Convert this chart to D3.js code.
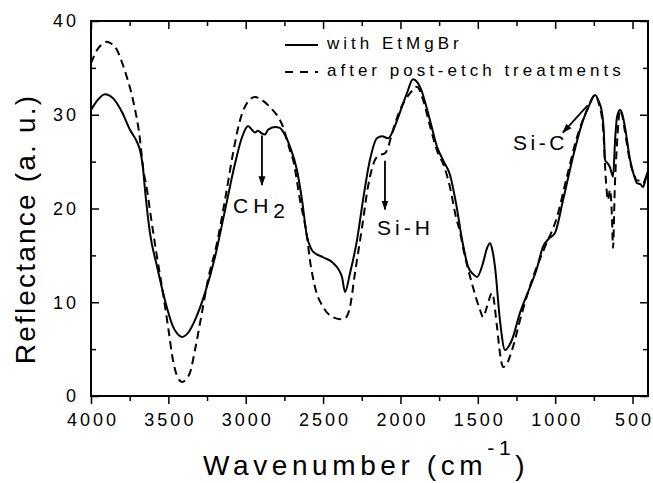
<!DOCTYPE html>
<html>
<head>
<meta charset="utf-8">
<script src="https://cdn.jsdelivr.net/npm/d3@7"></script>
<style>
  body { margin: 0; background: #fff; }
  svg { font-family: "Liberation Sans", Arial, sans-serif; }
</style>
</head>
<body>
<div class="chart"></div>
<script>
// solid curve: with EtMgBr
const waveSolid = [4000, 3960, 3910, 3860, 3800, 3748, 3700, 3683, 3665, 3651, 3619, 3573, 3522, 3470, 3440, 3412, 3370, 3328, 3263, 3199, 3134, 3069, 3024, 2985, 2960, 2940, 2921, 2895, 2875, 2856, 2811, 2780, 2759, 2714, 2669, 2636, 2604, 2580, 2565, 2500, 2436, 2378, 2358, 2326, 2281, 2242, 2197, 2152, 2119, 2080, 2050, 2022, 1958, 1919, 1874, 1809, 1764, 1720, 1680, 1640, 1600, 1563, 1530, 1505, 1466, 1440, 1421, 1405, 1389, 1357, 1324, 1300, 1279, 1227, 1163, 1120, 1079, 1040, 1001, 949, 885, 820, 775, 742, 720, 697, 685, 678, 660, 646, 626, 612, 600, 581, 565, 549, 516, 490, 471, 450, 432, 410, 400];
const reflSolid = [30.5, 31.5, 32.2, 31.8, 30.3, 28.4, 27.0, 26.2, 24.5, 22.0, 17.4, 13.8, 10.2, 7.4, 6.6, 6.3, 6.8, 8.1, 11.0, 14.8, 19.8, 24.8, 27.6, 28.8, 28.4, 28.1, 28.3, 28.0, 27.9, 28.4, 28.7, 28.6, 28.2, 26.6, 24.1, 20.9, 17.0, 15.8, 15.4, 14.8, 14.2, 12.7, 11.1, 13.1, 16.6, 20.9, 25.2, 27.5, 27.7, 27.5, 28.2, 29.4, 32.3, 33.8, 33.0, 29.4, 26.6, 25.0, 23.6, 20.5, 16.5, 13.8, 13.0, 12.7, 14.2, 15.8, 16.3, 15.5, 13.8, 8.1, 4.9, 5.3, 6.0, 8.9, 11.6, 13.5, 15.9, 16.8, 17.4, 20.9, 25.5, 29.4, 31.2, 32.1, 31.5, 30.2, 28.0, 25.2, 24.8, 24.4, 23.4, 27.5, 29.8, 30.5, 30.0, 28.7, 25.2, 23.5, 22.7, 22.6, 22.3, 23.5, 24.0];

// dashed curve: after post-etch treatments
const waveDashed = [4000, 3961, 3930, 3897, 3870, 3832, 3800, 3768, 3729, 3683, 3664, 3638, 3619, 3573, 3535, 3502, 3470, 3440, 3412, 3380, 3360, 3328, 3283, 3244, 3186, 3134, 3082, 3037, 2990, 2940, 2890, 2843, 2759, 2714, 2694, 2649, 2604, 2585, 2552, 2500, 2436, 2390, 2358, 2326, 2294, 2248, 2210, 2164, 2132, 2100, 2080, 2055, 2003, 1938, 1893, 1854, 1809, 1764, 1720, 1680, 1640, 1615, 1596, 1531, 1486, 1466, 1441, 1408, 1376, 1357, 1337, 1310, 1279, 1214, 1143, 1066, 988, 924, 859, 794, 742, 720, 691, 672, 659, 645, 633, 626, 615, 600, 581, 565, 549, 516, 490, 471, 450, 432, 410, 400];
const reflDashed = [35.5, 36.9, 37.5, 37.8, 37.6, 36.9, 35.6, 34.0, 31.6, 27.3, 24.4, 22.0, 19.8, 14.8, 11.0, 7.4, 3.8, 2.0, 1.5, 1.9, 2.5, 4.9, 8.9, 12.4, 16.3, 20.9, 25.9, 29.4, 31.3, 31.9, 31.5, 30.8, 28.7, 26.2, 25.2, 20.9, 17.0, 14.5, 11.6, 9.5, 8.4, 8.2, 8.3, 9.5, 13.1, 18.0, 22.3, 25.2, 25.7, 25.9, 26.5, 28.0, 30.5, 32.3, 33.0, 31.6, 28.8, 26.2, 24.6, 22.3, 19.0, 17.5, 15.9, 11.6, 9.2, 8.4, 9.5, 11.0, 7.4, 4.6, 3.1, 3.5, 4.9, 8.9, 12.7, 15.9, 19.1, 23.4, 27.6, 30.5, 32.1, 31.3, 28.7, 23.0, 20.9, 22.0, 19.1, 15.8, 22.0, 27.0, 30.5, 29.8, 28.2, 25.0, 23.6, 23.0, 23.0, 22.7, 23.5, 24.0];

const seriesNames = ["with EtMgBr", "after post-etch treatments"];
const xTicks = [4000, 3500, 3000, 2500, 2000, 1500, 1000, 500];
const xMinor = [3750, 3250, 2750, 2250, 1750, 1250, 750];
const yTicks = [0, 10, 20, 30, 40];
const yMinor = [5, 15, 25, 35];

const W = 653, H = 483;
const margin = {top: 21, right: 5, bottom: 87, left: 91};
const width = W - margin.left - margin.right;
const height = H - margin.top - margin.bottom;

const x = d3.scaleLinear().domain([4000, 400]).range([0, width]);
const y = d3.scaleLinear().domain([0, 40]).range([height, 0]);

const svg = d3.select(".chart").append("svg")
    .attr("width", W)
    .attr("height", H);

const g = svg.append("g")
    .attr("transform", `translate(${margin.left},${margin.top})`);

// axes
const tickFont = g => g.selectAll("text")
    .attr("font-size", 18)
    .attr("letter-spacing", 3)
    .attr("fill", "#000");

g.append("g")
    .attr("transform", `translate(0,${height})`)
    .call(d3.axisBottom(x).tickValues(xTicks).tickSize(8).tickPadding(9).tickFormat(d3.format("d")))
    .call(a => a.select(".domain").remove())
    .call(tickFont)
    .call(a => a.selectAll("text").attr("dx", 1.5));
g.append("g")
    .attr("transform", `translate(0,${height})`)
    .call(d3.axisBottom(x).tickValues(xMinor).tickSize(5).tickFormat(""))
    .call(a => a.select(".domain").remove());

g.append("g")
    .call(d3.axisTop(x).tickValues(xTicks).tickSize(-8).tickFormat(""))
    .call(a => a.select(".domain").remove());
g.append("g")
    .call(d3.axisTop(x).tickValues(xMinor).tickSize(-5).tickFormat(""))
    .call(a => a.select(".domain").remove());

g.append("g")
    .call(d3.axisLeft(y).tickValues(yTicks).tickSize(-8).tickPadding(12))
    .call(a => a.select(".domain").remove())
    .call(tickFont);
g.append("g")
    .call(d3.axisLeft(y).tickValues(yMinor).tickSize(-5).tickFormat(""))
    .call(a => a.select(".domain").remove());

g.append("g")
    .attr("transform", `translate(${width},0)`)
    .call(d3.axisRight(y).tickValues(yTicks).tickSize(-8).tickFormat(""))
    .call(a => a.select(".domain").remove());
g.append("g")
    .attr("transform", `translate(${width},0)`)
    .call(d3.axisRight(y).tickValues(yMinor).tickSize(-5).tickFormat(""))
    .call(a => a.select(".domain").remove());

g.selectAll(".tick line").attr("stroke", "#000").attr("stroke-width", 1.5);

g.append("rect")
    .attr("width", width)
    .attr("height", height)
    .attr("fill", "none")
    .attr("stroke", "#000")
    .attr("stroke-width", 2);

// curves
const line = d3.line()
    .x(d => x(d[0]))
    .y(d => y(d[1]))
    .curve(d3.curveMonotoneX);

const solidData = d3.zip(waveSolid, reflSolid);
const dashedData = d3.zip(waveDashed, reflDashed);

g.append("path")
    .datum(solidData)
    .attr("fill", "none")
    .attr("stroke", "#000")
    .attr("stroke-width", 2)
    .attr("d", line);

g.append("path")
    .datum(dashedData)
    .attr("fill", "none")
    .attr("stroke", "#000")
    .attr("stroke-width", 2)
    .attr("stroke-dasharray", "8,5")
    .attr("d", line);

// legend
const legend = svg.append("g").attr("transform", "translate(285,45)");
legend.selectAll("line")
    .data(seriesNames)
    .enter()
    .append("line")
    .attr("x1", 0)
    .attr("x2", 33)
    .attr("y1", (d, i) => i * 27)
    .attr("y2", (d, i) => i * 27)
    .attr("stroke", "#000")
    .attr("stroke-width", 2)
    .attr("stroke-dasharray", (d, i) => i ? "8,7" : null);
legend.selectAll("text")
    .data(seriesNames)
    .enter()
    .append("text")
    .attr("x", 42)
    .attr("y", (d, i) => i * 27 + 4)
    .attr("font-size", 17)
    .attr("letter-spacing", 4)
    .text(d => d);

// annotations
svg.append("defs").append("marker")
    .attr("id", "head")
    .attr("viewBox", "0 0 10 10")
    .attr("refX", 9)
    .attr("refY", 5)
    .attr("markerWidth", 5.5)
    .attr("markerHeight", 5.5)
    .attr("orient", "auto")
    .append("path")
    .attr("d", "M0,1.5L10,5L0,8.5z")
    .attr("fill", "#000");

const arrows = [
    {from: [2895, 27.8], to: [2895, 22.5]},
    {from: [2100, 25.1], to: [2100, 19.9]},
    {from: [790, 31.0], to: [950, 28.1]}
];
g.selectAll(".arrow")
    .data(arrows)
    .enter()
    .append("line")
    .attr("class", "arrow")
    .attr("x1", d => x(d.from[0]))
    .attr("y1", d => y(d.from[1]))
    .attr("x2", d => x(d.to[0]))
    .attr("y2", d => y(d.to[1]))
    .attr("stroke", "#000")
    .attr("stroke-width", 1.8)
    .attr("marker-end", "url(#head)");

const ch2 = svg.append("text")
    .attr("x", 233)
    .attr("y", 213)
    .attr("font-size", 21)
    .attr("letter-spacing", 5);
ch2.append("tspan").text("CH");
ch2.append("tspan").attr("dy", 5).text("2");

svg.append("text")
    .attr("x", 377)
    .attr("y", 235)
    .attr("font-size", 21)
    .attr("letter-spacing", 4)
    .text("Si-H");

svg.append("text")
    .attr("x", 513)
    .attr("y", 150)
    .attr("font-size", 21)
    .attr("letter-spacing", 3.5)
    .text("Si-C");

// axis titles
const xTitle = svg.append("text")
    .attr("x", 203)
    .attr("y", 475)
    .attr("font-size", 28)
    .attr("letter-spacing", 4.6);
xTitle.append("tspan").text("Wavenumber (cm");
xTitle.append("tspan").attr("dy", -20).attr("font-size", 21).text("-1");
xTitle.append("tspan").attr("dy", 20).text(")");

svg.append("text")
    .attr("transform", "translate(35,229) rotate(-90)")
    .attr("text-anchor", "middle")
    .attr("font-size", 28)
    .attr("letter-spacing", 2.2)
    .text("Reflectance (a. u.)");
</script>
</body>
</html>
